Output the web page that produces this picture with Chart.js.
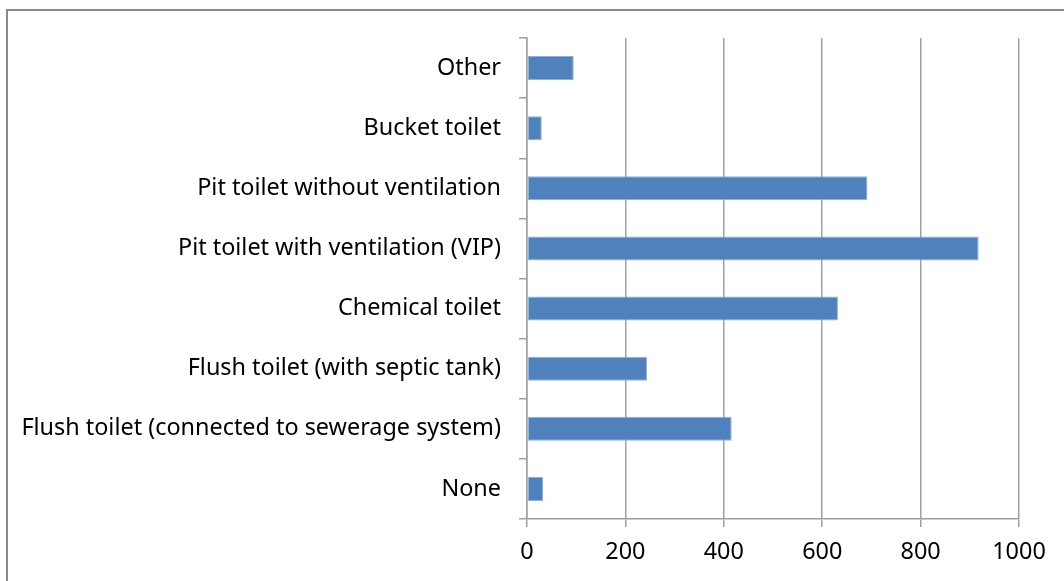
<!DOCTYPE html>
<html>
<head>
<meta charset="utf-8">
<script src="https://cdn.jsdelivr.net/npm/chart.js@4"></script>
<style>
  html, body { margin: 0; padding: 0; background: #fff; overflow: hidden; }
  #frame {
    position: absolute; left: 6px; top: 9px; width: 1200px; height: 700px;
    border: 2px solid #898989; box-sizing: border-box;
  }
  #wrap { position: absolute; left: 0; top: 0; width: 1064px; height: 581px; }
</style>
</head>
<body>
<div id="frame"></div>
<div id="wrap"><canvas id="chart" width="1064" height="581"></canvas></div>
<script>
const categories = [
  "Other",
  "Bucket toilet",
  "Pit toilet without ventilation",
  "Pit toilet with ventilation (VIP)",
  "Chemical toilet",
  "Flush toilet (with septic tank)",
  "Flush toilet (connected to sewerage system)",
  "None"
];
const values = [95, 30, 692, 918, 632, 244, 416, 33];
const xTicks = [0, 200, 400, 600, 800, 1000];

const labelFont = { family: "'Noto Sans', 'Open Sans', sans-serif", size: 23.4 };

const ctx = document.getElementById("chart").getContext("2d");
new Chart(ctx, {
  type: "bar",
  data: {
    labels: categories,
    datasets: [
      {
        data: values,
        backgroundColor: "#4f81bd",
        borderColor: "#8fb0d8",
        borderWidth: 1,
        borderSkipped: false,
        categoryPercentage: 0.8,
        barPercentage: 0.5,
      },
    ],
  },
  options: {
    indexAxis: "y",
    responsive: false,
    animation: false,
    layout: { padding: { top: 38, right: 45, left: 0, bottom: 0 } },
    plugins: {
      legend: { display: false },
      tooltip: { enabled: false },
    },
    scales: {
      x: {
        min: 0,
        max: 1000,
        afterBuildTicks: (scale) => {
          scale.ticks = xTicks.map((v) => ({ value: v }));
        },
        afterFit: (scale) => {
          scale.height = 62;
        },
        grid: {
          color: "#a0a0a0",
          lineWidth: 1.5,
          tickLength: 8,
          drawTicks: true,
        },
        border: { color: "#a0a0a0", width: 1.5 },
        ticks: {
          color: "#000",
          font: labelFont,
          padding: 11,
          callback: (v) => String(v),
        },
      },
      y: {
        afterFit: (scale) => {
          scale.width = 527;
        },
        grid: {
          offset: true,
          drawOnChartArea: false,
          color: "#a0a0a0",
          lineWidth: 1.5,
          tickLength: 8,
        },
        border: { color: "#a0a0a0", width: 1.5 },
        ticks: {
          color: "#000",
          font: labelFont,
          padding: 18,
        },
      },
    },
  },
});
</script>
</body>
</html>
